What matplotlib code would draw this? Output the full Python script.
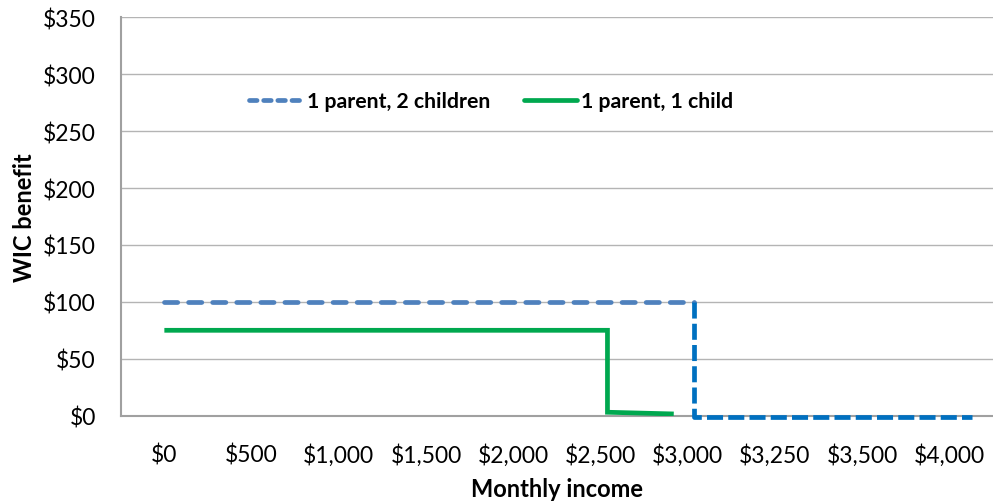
import matplotlib
matplotlib.use('Agg')
import matplotlib.pyplot as plt
from matplotlib.lines import Line2D

plt.rcParams['font.family'] = ['Lato', 'DejaVu Sans']

# x tick categories (monthly income)
categories = ['$0', '$500', '$1,000', '$1,500', '$2,000', '$2,500',
              '$3,000', '$3,250', '$3,500', '$4,000']

# series, x in category-position units
two_child_x = [0, 6.07]
two_child_y = [100, 100]
two_child_drop_x = [6.07, 6.07, 9.26]
two_child_drop_y = [100, -1, -1]

one_child_x = [0, 5.08, 5.08, 5.84]
one_child_y = [75, 75, 3, 1.5]

yticks = list(range(0, 351, 50))

fig = plt.figure(figsize=(9.93, 5.02), dpi=100)
ax = fig.add_axes([0.1216, 0.170, 0.8784, 0.7935])

light_blue = '#4F81BD'
dark_blue = '#0070C0'
green = '#00A84F'
lw = 3.4

ax.plot(two_child_x, two_child_y, color=light_blue, lw=lw,
        linestyle=(0, (2.8, 2.3)), dash_capstyle='round', zorder=3)
ax.plot(two_child_drop_x, two_child_drop_y, color=dark_blue, lw=lw,
        linestyle=(0, (3.4, 1.1)), dash_capstyle='butt', zorder=3,
        clip_on=False)
ax.plot(one_child_x, one_child_y, color=green, lw=lw,
        solid_capstyle='butt', solid_joinstyle='miter', zorder=3)

ax.set_xlim(-0.5, len(categories) - 0.5)
ax.set_ylim(0, 350)
ax.set_xticks(range(len(categories)))
ax.set_xticklabels(categories)
ax.set_yticks(yticks)
ax.set_yticklabels([f'${v}' for v in yticks])
ax.tick_params(axis='both', length=0, labelsize=16.5, colors='black')
ax.tick_params(axis='x', pad=20)
ax.tick_params(axis='y', pad=18)

ax.grid(axis='y', color='#B4B4B4', lw=1.0)
ax.set_axisbelow(True)
for s in ['top', 'right']:
    ax.spines[s].set_visible(False)
for s in ['left', 'bottom']:
    ax.spines[s].set_color('#A0A0A0')
    ax.spines[s].set_linewidth(1.5)

ax.set_xlabel('Monthly income', fontsize=17, fontweight='bold', labelpad=8)
ax.set_ylabel('WIC benefit', fontsize=17, fontweight='bold', labelpad=5)

handles = [Line2D([], [], color=light_blue, lw=lw, linestyle=(0, (1.6, 1.4)),
                  dash_capstyle='round'),
           Line2D([], [], color=green, lw=lw, solid_capstyle='round')]
ax.legend(handles, ['1 parent, 2 children', '1 parent, 1 child'],
          loc='center', bbox_to_anchor=(0.425, 0.79), ncol=2, frameon=False,
          prop={'size': 15.3, 'weight': 'bold'}, handlelength=2.5,
          handletextpad=0.2, columnspacing=1.6)

fig.savefig('out.png', dpi=100)
